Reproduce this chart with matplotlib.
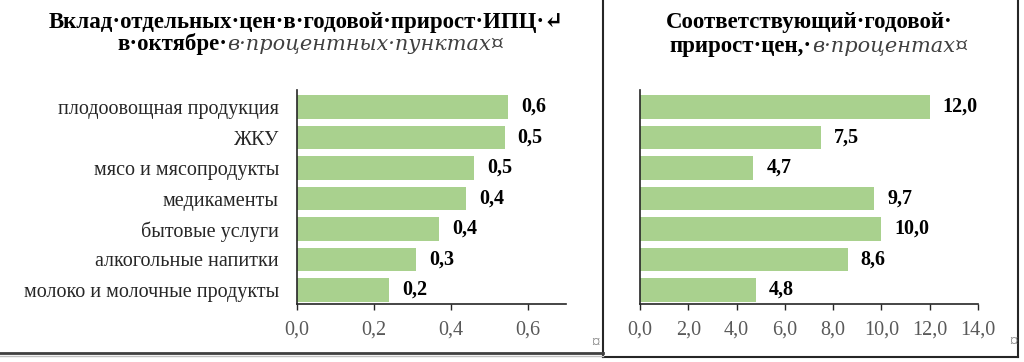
import matplotlib
matplotlib.use("Agg")
import matplotlib.pyplot as plt
from matplotlib.lines import Line2D

# data
categories = ["плодоовощная продукция", "ЖКУ", "мясо и мясопродукты", "медикаменты",
              "бытовые услуги", "алкогольные напитки", "молоко и молочные продукты"]
contrib = [0.55, 0.54, 0.46, 0.44, 0.37, 0.31, 0.24]
contrib_labels = ["0,6", "0,5", "0,5", "0,4", "0,4", "0,3", "0,2"]
growth = [12.0, 7.5, 4.7, 9.7, 10.0, 8.6, 4.8]
growth_labels = ["12,0", "7,5", "4,7", "9,7", "10,0", "8,6", "4,8"]
left_ticks = [0.0, 0.2, 0.4, 0.6]
left_ticklabels = ["0,0", "0,2", "0,4", "0,6"]
right_ticks = [0, 2, 4, 6, 8, 10, 12, 14]
right_ticklabels = ["0,0", "2,0", "4,0", "6,0", "8,0", "10,0", "12,0", "14,0"]

SERIF = ["Liberation Serif", "DejaVu Serif"]
ITAL = ["DejaVu Serif", "Liberation Serif"]
plt.rcParams["font.family"] = SERIF
BAR = "#a9d18e"
W, H = 1024, 362

fig = plt.figure(figsize=(W / 100, H / 100), dpi=100)


def fx(px):
    return px / W


def fy(py):
    return 1 - py / H


def setup(ax, xmax, ticks, ticklabels):
    ax.set_xlim(0, xmax)
    ax.set_ylim(6.46, -0.56)
    for s in ["top", "right"]:
        ax.spines[s].set_visible(False)
    for s in ["left", "bottom"]:
        ax.spines[s].set_color("#262626")
        ax.spines[s].set_linewidth(1.2)
    ax.set_xticks(ticks)
    ax.set_xticklabels(ticklabels)
    ax.tick_params(axis="x", direction="out", length=4, width=1, color="#262626",
                   labelsize=14.5, labelcolor="#595959", pad=8)
    ax.tick_params(axis="y", length=0)


# left chart
ax1 = fig.add_axes([fx(297), fy(304), fx(566) - fx(297), fy(90) - fy(304)])
ax1.barh(range(len(categories)), contrib, height=0.78, color=BAR)
setup(ax1, 0.7, left_ticks, left_ticklabels)
ax1.set_yticks(range(len(categories)))
ax1.set_yticklabels(categories, fontsize=14.5, color="#262626")
ax1.tick_params(axis="y", pad=13)
for i, (v, t) in enumerate(zip(contrib, contrib_labels)):
    ax1.annotate(t, (v, i), xytext=(13, 0), textcoords="offset pixels",
                 va="center", ha="left", fontsize=14.5, fontweight="bold")

# right chart
ax2 = fig.add_axes([fx(640), fy(304), fx(978) - fx(640), fy(90) - fy(304)])
ax2.barh(range(len(growth)), growth, height=0.78, color=BAR)
setup(ax2, 14, right_ticks, right_ticklabels)
ax2.set_yticks([])
for i, (v, t) in enumerate(zip(growth, growth_labels)):
    ax2.annotate(t, (v, i), xytext=(13, 0), textcoords="offset pixels",
                 va="center", ha="left", fontsize=14.5, fontweight="bold")

# titles
TS = 16.5
IS = 15
GREY = "#404040"
fig.text(fx(306), fy(28), "Вклад·отдельных·цен·в·годовой·прирост·ИПЦ·↵",
         ha="center", va="baseline", fontsize=TS, fontweight="bold")
fig.text(fx(227), fy(50), "в·октябре·", ha="right", va="baseline",
         fontsize=TS, fontweight="bold")
fig.text(fx(227), fy(50), "в·процентных·пунктах¤", ha="left", va="baseline",
         fontsize=IS, style="italic", color=GREY, family=ITAL)

fig.text(fx(809), fy(28), "Соответствующий·годовой·",
         ha="center", va="baseline", fontsize=TS, fontweight="bold")
fig.text(fx(812), fy(52), "прирост·цен,·", ha="right", va="baseline",
         fontsize=TS, fontweight="bold")
fig.text(fx(812), fy(52), "в·процентах¤", ha="left", va="baseline",
         fontsize=IS, style="italic", color=GREY, family=ITAL)

# cell end marks
fig.text(fx(595), fy(343), "¤", ha="center", va="center", fontsize=12, color="#808080")
fig.text(fx(1013), fy(342), "¤", ha="center", va="center", fontsize=12, color="#808080")

# table borders
lines = [
    ([603, 603], [0, 357], "#262626", 1.5),
    ([603, 1018], [357, 357], "#262626", 1.5),
    ([1018, 1018], [0, 357], "#262626", 1.5),
    ([0, 603], [353, 353], "#404040", 2.0),
    ([0, 603], [356, 356], "#c0c0c0", 1.0),
]
for xs, ys, c, lw in lines:
    fig.add_artist(Line2D([fx(x) for x in xs], [fy(y) for y in ys],
                          transform=fig.transFigure, color=c, linewidth=lw))

fig.savefig("out.png", dpi=100)
